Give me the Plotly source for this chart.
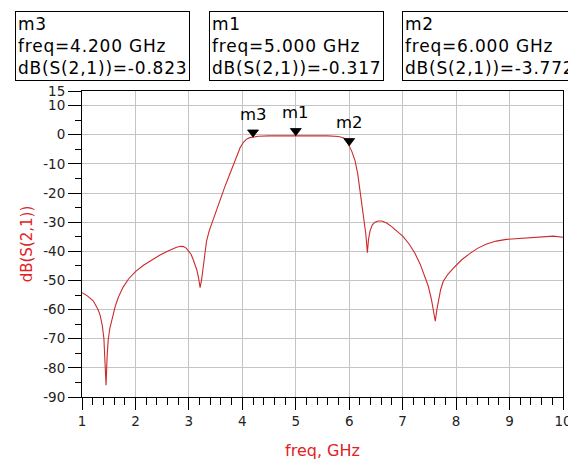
import plotly.graph_objects as go

# ---- data ----
freq = [1.00, 1.10, 1.21, 1.30, 1.34, 1.38, 1.41, 1.43, 1.45, 1.47, 1.49, 1.52, 1.56, 1.62, 1.68,
        1.77, 1.87, 2.00, 2.15, 2.30, 2.46, 2.62, 2.77, 2.85, 2.90, 2.95, 2.99, 3.04, 3.08, 3.12,
        3.15, 3.18, 3.21, 3.24, 3.27, 3.30, 3.33, 3.38, 3.43, 3.50, 3.58, 3.67, 3.77, 3.87, 3.96,
        4.02, 4.08, 4.14, 4.20, 4.30, 4.50, 4.80, 5.00, 5.30, 5.60, 5.80, 5.90, 5.95, 6.00, 6.05,
        6.11, 6.16, 6.20, 6.24, 6.28, 6.31, 6.34, 6.36, 6.39, 6.43, 6.48, 6.54, 6.61, 6.70, 6.80,
        6.90, 7.01, 7.12, 7.23, 7.33, 7.42, 7.48, 7.54, 7.58, 7.61, 7.64, 7.67, 7.71, 7.76, 7.85,
        7.95, 8.10, 8.26, 8.40, 8.57, 8.75, 8.94, 9.20, 9.45, 9.65, 9.82, 10.0]
s21_db = [-54.2, -55.3, -57.0, -60.0, -62.0, -65.5, -70.0, -76.0, -86.0, -76.0, -70.5, -66.5, -63.0, -59.0, -55.8,
          -52.3, -49.5, -47.0, -44.8, -43.0, -41.3, -39.8, -38.6, -38.3, -38.4, -38.9, -39.7, -41.0, -42.8, -44.8,
          -46.5, -49.0, -52.5, -49.5, -45.0, -40.5, -36.5, -33.0, -30.4, -26.5, -22.4, -18.0, -13.3, -8.5, -4.4,
          -2.6, -1.5, -1.0, -0.823, -0.55, -0.40, -0.33, -0.317, -0.33, -0.40, -0.60, -1.1, -2.0, -3.772, -5.8,
          -9.0, -13.5, -19.0, -24.0, -29.5, -34.0, -40.5, -36.0, -33.0, -31.0, -30.0, -29.6, -29.6, -30.3, -31.6,
          -33.2, -35.0, -37.5, -40.7, -44.5, -48.7, -52.0, -56.7, -60.5, -64.0, -60.0, -56.5, -53.2, -50.3, -47.8,
          -45.8, -43.0, -40.7, -39.0, -37.5, -36.5, -35.9, -35.5, -35.2, -35.0, -34.8, -35.2]

marker_names = ["m3", "m1", "m2"]
marker_freq = [4.2, 5.0, 6.0]
marker_db = [-0.823, -0.317, -3.772]

y_ticks = [-90, -80, -70, -60, -50, -40, -30, -20, -10, 0, 10, 15]
x_ticks = [1, 2, 3, 4, 5, 6, 7, 8, 9, 10]

# ---- layout constants (page body has an 8px margin) ----
OFF = 8
W, H = 576 - OFF, 462 - OFF
ML, MR, MT, MB = 82 - OFF, 13, 91 - OFF, 65
Y_RANGE = [-90, 15]
X_RANGE = [1, 10]
plot_h = H - MT - MB
plot_w = W - ML - MR
db_per_px = (Y_RANGE[1] - Y_RANGE[0]) / plot_h

FONT = "DejaVu Sans"
RED = "#e0231f"
CURVE = "#cc2a2a"

fig = go.Figure()
fig.add_trace(go.Scatter(x=freq, y=s21_db, mode="lines",
                         line=dict(color=CURVE, width=1.1), hoverinfo="skip", showlegend=False))

# marker triangles: tip sits on the data point
tri_size = 9.5
fig.add_trace(go.Scatter(
    x=marker_freq,
    y=[v + (tri_size / 2) * db_per_px for v in marker_db],
    mode="markers",
    marker=dict(symbol="triangle-down", size=tri_size, color="black", line=dict(width=0.8, color="black")),
    hoverinfo="skip", showlegend=False))

for n, f, v in zip(marker_names, marker_freq, marker_db):
    fig.add_annotation(x=f, y=v, xref="x", yref="y", text=n, showarrow=False,
                       yshift=23, yanchor="middle", xanchor="center",
                       font=dict(family=FONT, size=16.5, color="black"))

# marker readout boxes (left edges / top in window pixels)
box_left_px = [15, 209, 402]
box_top_px = 11
SP = '<span style="letter-spacing:0.8px">'
for n, f, v, lp in zip(marker_names, marker_freq, marker_db, box_left_px):
    lines = [n, f"freq={f:.3f} GHz", f"dB(S(2,1))={v:.3f}"]
    txt = "<br>".join(SP + s + "</span>" for s in lines)
    fig.add_annotation(x=(lp - OFF - ML) / plot_w, y=(H - MB - (box_top_px - OFF)) / plot_h,
                       xref="paper", yref="paper", xanchor="left", yanchor="top",
                       text=txt, align="left", showarrow=False,
                       font=dict(family=FONT, size=17, color="black"),
                       bordercolor="black", borderwidth=1, borderpad=2, bgcolor="white")

fig.update_xaxes(range=X_RANGE, tickvals=x_ticks, ticktext=[str(t) for t in x_ticks],
                 automargin=False,
                 showgrid=True, gridcolor="#c4c4c4", gridwidth=1,
                 showline=True, linecolor="black", linewidth=1, mirror=True,
                 ticks="outside", ticklen=12, tickcolor="black", tickwidth=1,
                 minor=dict(dtick=0.2, tick0=1, ticklen=7, tickcolor="black", ticks="outside", showgrid=False),
                 tickfont=dict(family=FONT, size=13.5, color="#222222"),
                 title=dict(text="freq, GHz", font=dict(family=FONT, size=16, color=RED), standoff=16),
                 zeroline=False)
fig.update_yaxes(range=Y_RANGE, tickvals=y_ticks, ticktext=[str(t) for t in y_ticks],
                 automargin=False,
                 showgrid=True, gridcolor="#c4c4c4", gridwidth=1,
                 showline=True, linecolor="black", linewidth=1, mirror=True,
                 ticks="outside", ticklen=13, tickcolor="black", tickwidth=1,
                 minor=dict(dtick=5, tick0=-90, ticklen=6, tickcolor="black", ticks="outside", showgrid=False),
                 tickfont=dict(family=FONT, size=13.5, color="#222222"),
                 title=dict(text="dB(S(2,1))", font=dict(family=FONT, size=15, color=RED), standoff=6),
                 zeroline=False)

fig.update_layout(width=W, height=H, margin=dict(l=ML, r=MR, t=MT, b=MB, pad=0, autoexpand=False),
                  plot_bgcolor="white", paper_bgcolor="white", showlegend=False)

fig.write_html("out.html")
